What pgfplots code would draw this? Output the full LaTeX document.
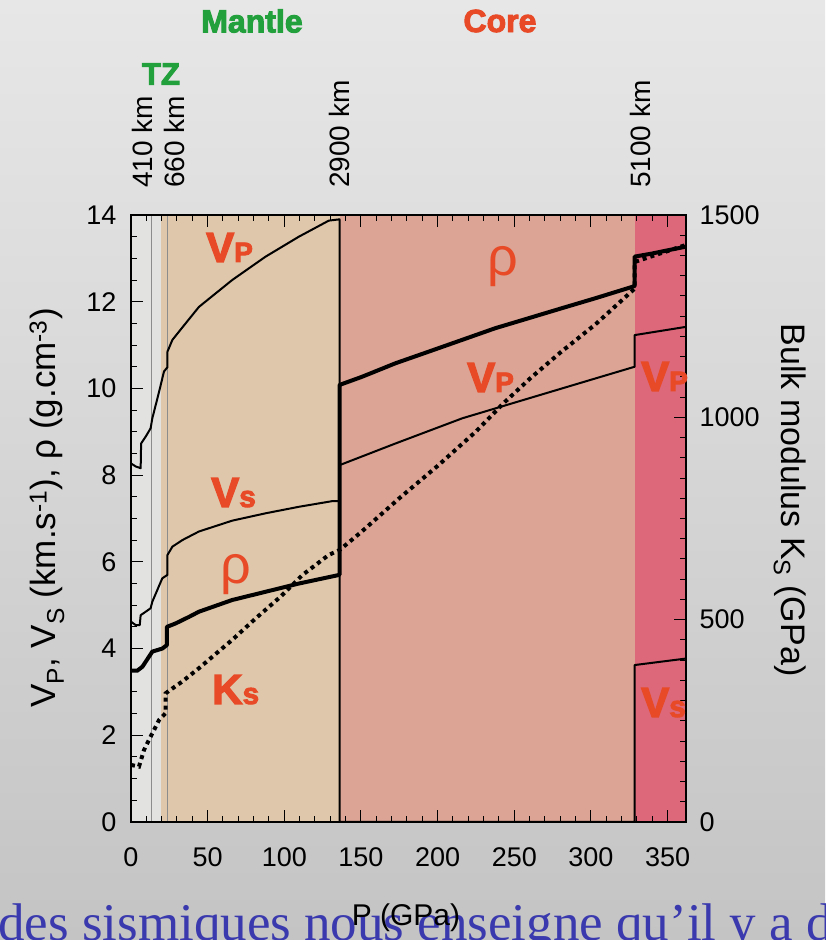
\documentclass[border=0pt]{standalone}
\usepackage{pgfplots}
\pgfplotsset{compat=1.18}
\usepackage{fontspec}
\setmainfont{Liberation Sans}
\newfontfamily\heavy{Liberation Sans}[UprightFeatures={FakeBold=3}, BoldFeatures={FakeBold=3}]
\newfontfamily\serifblue{Liberation Serif}

\definecolor{bgtop}{HTML}{E7E7E7}
\definecolor{bgbot}{HTML}{C4C4C4}
\definecolor{strip}{HTML}{E2E3E1}
\definecolor{mantle}{HTML}{DFC7AB}
\definecolor{ocore}{HTML}{DBA494}
\definecolor{icore}{HTML}{DC687A}
\definecolor{lab}{HTML}{E84A27}
\definecolor{grn}{HTML}{22A03C}
\definecolor{txtblue}{HTML}{3A3AAE}
\definecolor{disc}{HTML}{8C8C8C}

% heavy orange labels: big letter + small index letter
\newcommand{\VP}{{\heavy\bfseries\fontsize{42}{44}\selectfont V\fontsize{28}{30}\selectfont P}}
\newcommand{\Vs}{{\heavy\bfseries\fontsize{42}{44}\selectfont V\fontsize{30}{30}\selectfont s}}
\newcommand{\Ks}{{\heavy\bfseries\fontsize{42}{44}\selectfont K\fontsize{30}{30}\selectfont s}}
\newcommand{\rh}{{\fontsize{54}{56}\selectfont ρ}}

\begin{document}
\begin{tikzpicture}[x=1pt,y=1pt]
\path[use as bounding box] (0,0) rectangle (825,940);
\clip (0,0) rectangle (825,940);
\shade[top color=bgtop, bottom color=bgbot] (0,0) rectangle (825,940);

\pgfplotsset{
  common/.style={
    at={(131pt,118pt)}, anchor=south west,
    scale only axis, width=555pt, height=607pt,
    xmin=0, xmax=362,
    tick align=inside,
    major tick length=12pt, minor tick length=6pt,
    every tick/.style={black, line width=1pt},
    axis line style={black, line width=1.2pt},
    ticklabel style={font=\fontsize{27}{30}\selectfont,
      /pgf/number format/assume math mode=true,
      /pgf/number format/set thousands separator={}},
  }
}

% velocities and density
\begin{axis}[common,
  ymin=0, ymax=14,
  xtick={0,50,...,350}, minor x tick num=4,
  ytick={0,2,...,14}, minor y tick num=3,
  xtick pos=both, xticklabel pos=lower, ytick pos=left,
  xticklabel style={yshift=-22pt},
  yticklabel style={xshift=-11pt},
  axis background/.style={fill=strip},
  axis on top,
]
% layers: mantle, outer core, inner core
\addplot[draw=none, fill=mantle, forget plot] coordinates {(19.3,0) (19.3,14) (136,14) (136,0)} -- cycle;
\addplot[draw=none, fill=ocore, forget plot] coordinates {(136,0) (136,14) (328.5,14) (328.5,0)} -- cycle;
\addplot[draw=none, fill=icore, forget plot] coordinates {(328.5,0) (328.5,14) (362,14) (362,0)} -- cycle;
% 410 km and 660 km discontinuities
\addplot[disc, line width=1.5pt] coordinates {(13.4,0) (13.4,14)};
\addplot[disc, line width=1.5pt] coordinates {(23.8,0) (23.8,14)};

% V_P
\addplot[black, line width=2pt, line join=round] coordinates {
(0,8.27) (3.1,8.20) (6.3,8.16) (6.6,8.73) (9.6,8.89) (12.8,9.08) (13.9,9.31)
(18.3,9.92) (21.5,10.39) (23.8,10.49) (23.8,10.85) (27,11.12) (31.3,11.31)
(44.3,11.88) (66,12.5) (87.8,13.04) (109.5,13.5) (129,13.87) (136,13.9)
(136,8.23) (172.5,8.73) (216,9.31) (259.4,9.77) (302.9,10.23) (328.5,10.50)
(328.5,11.23) (362,11.42)};
% V_S
\addplot[black, line width=2pt, line join=round] coordinates {
(0,4.62) (3.1,4.54) (5.7,4.54) (6.3,4.77) (9.6,4.85) (12.8,4.93) (13.9,5.08)
(20.4,5.62) (23.8,5.70) (23.8,6.16) (27,6.35) (33.4,6.50) (44.3,6.70)
(66,6.95) (87.8,7.12) (109.5,7.27) (131.2,7.40) (136,7.40)
(136,0) (328.5,0) (328.5,3.62) (362,3.77)};
% density
\addplot[black, line width=4pt, line join=round] coordinates {
(0,3.49) (4.1,3.49) (7.4,3.58) (11.7,3.81) (13.9,3.93) (20.4,4.00) (23.4,4.08)
(23.4,4.50) (29.1,4.58) (37.8,4.73) (44.3,4.85) (66,5.12) (87.8,5.31)
(109.5,5.50) (136,5.70) (136,10.08) (150.8,10.27) (172.5,10.58) (194.3,10.85)
(216,11.12) (237.7,11.39) (259.4,11.62) (281,11.85) (302.9,12.08) (328.5,12.36)
(328.5,13.04) (339.7,13.11) (350.7,13.19) (362,13.27)};
\end{axis}

% bulk modulus
\begin{axis}[common,
  ymin=0, ymax=1500,
  hide x axis,
  ytick={0,500,1000,1500}, minor y tick num=9,
  ytick pos=right, yticklabel pos=right,
  yticklabel style={xshift=10pt},
]
\addplot[black, line width=4pt, dash pattern=on 4pt off 4pt] coordinates {
(0,141) (5.2,137) (8.5,178) (11.7,203) (13.9,219) (18.3,252) (22.6,269)
(22.6,318) (27,330) (33.4,347) (44.3,380) (66,450) (81.3,503) (97.6,557)
(111.7,610) (129,660) (136,672) (150,716) (175,800) (200,880) (225,965)
(243,1035) (260,1095) (280,1160) (303,1230) (328.5,1318) (328.5,1384) (362,1426)};
\end{axis}

% curve labels
\node[lab, anchor=base west, inner sep=0] at (206,678) {\VP};
\node[lab, anchor=base west, inner sep=0] at (211,433) {\Vs};
\node[lab, inner sep=0] at (236,365) {\rh};
\node[lab, anchor=base west, inner sep=0] at (212,236) {\Ks};
\node[lab, inner sep=0] at (503,673) {\rh};
\node[lab, anchor=base west, inner sep=0] at (467,548) {\VP};
\node[lab, anchor=base west, inner sep=0] at (641,549) {\VP};
\node[lab, anchor=base west, inner sep=0] at (641,223) {\Vs};

% depth markers
\begin{scope}[every node/.style={rotate=90, anchor=west, inner sep=0,
    font=\fontsize{28}{30}\selectfont}]
\node at (142.5,752) {410 km};
\node at (174,752) {660 km};
\node at (339,752) {2900 km};
\node at (640,752) {5100 km};
\end{scope}

% regions
\node[grn, font=\heavy\bfseries\fontsize{32}{34}\selectfont] at (252,919) {Mantle};
\node[lab, font=\heavy\bfseries\fontsize{32}{34}\selectfont] at (500,919) {Core};
\node[grn, font=\heavy\bfseries\fontsize{31}{34}\selectfont] at (161,866) {TZ};

% axis titles
\node[rotate=90, font=\fontsize{35}{38}\selectfont] at (47,432)
  {V\textsubscript{P}, V\textsubscript{S} (km.s\textsuperscript{-1}), ρ (g.cm\textsuperscript{-3})};
\node[rotate=-90, font=\fontsize{34}{38}\selectfont] at (790,440)
  {Bulk modulus K\textsubscript{S} (GPa)};

% caption line running below
\node[txtblue, anchor=base west, inner sep=0, font=\serifblue\fontsize{53}{56}\selectfont]
  at (-2,-1) {des sismiques nous enseigne qu’il y a d};
\node[font=\fontsize{30}{32}\selectfont] at (406,22) {P (GPa)};
\end{tikzpicture}
\end{document}
